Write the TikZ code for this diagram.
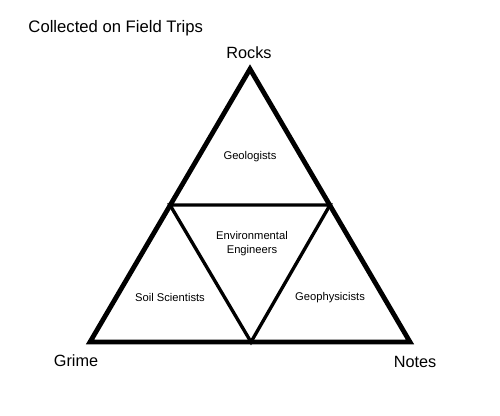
\documentclass[tikz,border=0pt]{standalone}
\usepackage{fontspec}
\setmainfont{Liberation Sans}
\tikzset{every picture/.style={line width=0.75pt}}
\tikzset{
  outer/.style={line width=3.6pt, line join=miter},
  inner/.style={line width=2.5pt},
  corner/.style={inner sep=0.75pt, font=\fontsize{12.2}{14}\selectfont},
  field/.style={inner sep=0.75pt, align=center, font=\fontsize{8.4}{10.5}\selectfont}
}
\begin{document}
\begin{tikzpicture}[x=0.75pt,y=0.75pt,yscale=-1,xscale=1]
\useasboundingbox (0,0) rectangle (500,415);

% corners of the big triangle
\coordinate (top) at (250,69);
\coordinate (left) at (90,342);
\coordinate (right) at (410,342);
% corners of the middle triangle
\coordinate (midl) at (170,205);
\coordinate (midr) at (330,205);
\coordinate (midb) at (251,342);

%Shape: Triangle
\draw [outer] (top) -- (right) -- (left) -- cycle ;
%Straight Lines
\draw [inner] (midl) -- (midr) -- (midb) -- cycle ;

% Text Node
\draw (27,28) node (title) [anchor=west,corner,font=\fontsize{12.5}{14}\selectfont] {Collected on Field Trips};
% Text Node
\draw (249,53) node (rocks) [corner] {Rocks};
% Text Node
\draw (76,361) node (grime) [corner] {Grime};
% Text Node
\draw (415,362) node (notes) [corner] {Notes};
% Text Node
\draw (250,157) node (geol) [field] {Geologists};
% Text Node
\draw (252,244) node (env) [field] {Environmental\\Engineers};
% Text Node
\draw (170,297) node (soil) [field] {Soil Scientists};
% Text Node
\draw (330,298) node (geoph) [field] {Geophysicists};

\end{tikzpicture}
\end{document}
